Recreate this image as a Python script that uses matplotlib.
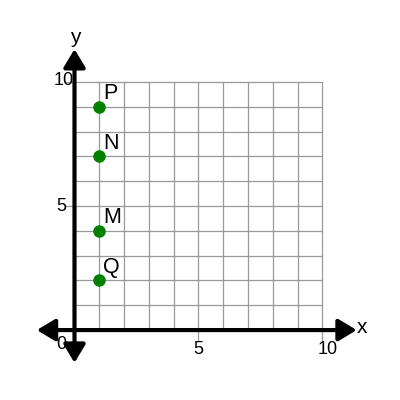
import matplotlib
matplotlib.use("Agg")
import matplotlib.pyplot as plt

# =========================
# Dados
# =========================
point_labels = ["P", "N", "M", "Q"]
point_x = [1, 1, 1, 1]
point_y = [9, 7, 4, 2]

grid_max = 10
tick_values = [5, 10]
tick_labels = ["5", "10"]

plt.rcParams["font.family"] = ["Liberation Sans", "DejaVu Sans"]

fig = plt.figure(figsize=(4, 4), dpi=100)
ax = fig.add_axes([0, 0, 1, 1])
ax.set_xlim(-3.004, 13.125)
ax.set_ylim(-2.82, 13.31)
ax.axis("off")

# grade
for i in range(1, grid_max + 1):
    ax.plot([i, i], [0, grid_max], color="#999999", lw=0.9, zorder=1)
    ax.plot([0, grid_max], [i, i], color="#999999", lw=0.9, zorder=1)

# marcas de 5 e 10 saindo dos eixos
for t in tick_values:
    ax.plot([t, t], [-0.4, 0], color="#999999", lw=0.9, zorder=1)
    ax.plot([-0.4, 0], [t, t], color="#999999", lw=0.9, zorder=1)

# eixos com setas nas duas pontas
arrow = dict(arrowstyle="<|-|>,head_length=0.5,head_width=0.3", lw=3,
             color="black", mutation_scale=22, shrinkA=0, shrinkB=0)
ax.annotate("", xy=(11.38, 0), xytext=(-1.52, 0), arrowprops=arrow, zorder=3)
ax.annotate("", xy=(0, 11.33), xytext=(0, -1.32), arrowprops=arrow, zorder=3)

ax.text(11.39, -0.12, "x", fontsize=15, ha="left", va="baseline")
ax.text(0.04, 11.57, "y", fontsize=15, ha="center", va="baseline")

# rótulos dos ticks
ax.text(-0.34, -0.77, "0", fontsize=13, ha="right", va="baseline")
for t, lab in zip(tick_values, tick_labels):
    ax.text(t + (0.2 if t == 10 else 0), -0.97, lab, fontsize=13,
            ha="center", va="baseline")
ax.text(-0.31, 4.8, "5", fontsize=13, ha="right", va="baseline")
ax.text(-0.05, 9.88, "10", fontsize=13, ha="right", va="baseline")

# pontos
ax.scatter(point_x, point_y, s=64, color="#008000", zorder=4)
for lab, x, y in zip(point_labels, point_x, point_y):
    ax.text(x + 0.15, y + 0.3, lab, fontsize=15.5, ha="left", va="baseline")

fig.savefig("out.png", dpi=100)
